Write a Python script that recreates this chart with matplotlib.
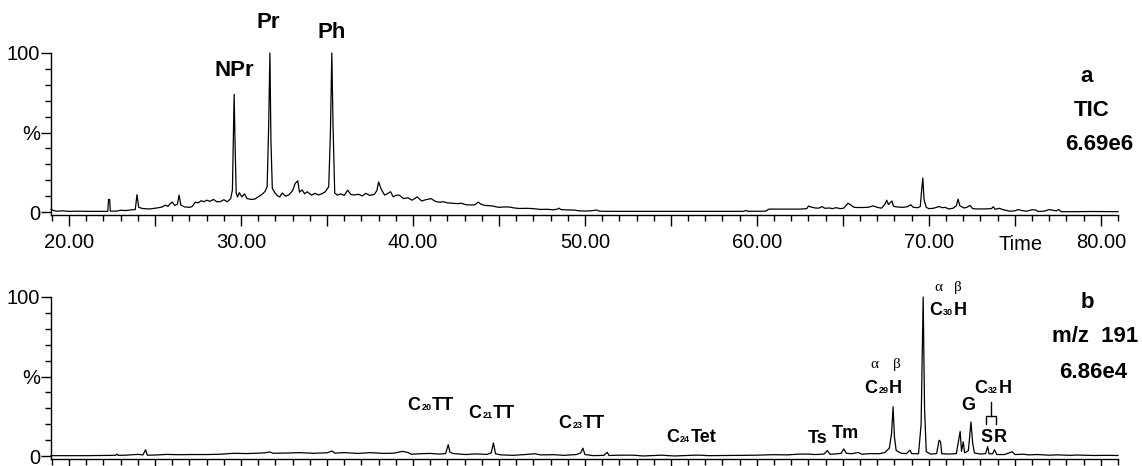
import matplotlib.pyplot as plt
from matplotlib.offsetbox import AnnotationBbox, HPacker, TextArea
from matplotlib.ticker import FuncFormatter, MultipleLocator

plt.rcParams["font.family"] = ["Liberation Sans", "DejaVu Sans"]

W, H = 1142, 466
TIME_MIN, TIME_MAX = 18.95, 81.0

# Total ion current trace: retention time (min) and relative intensity (%)
tic_time = [
    18.95, 19.1, 19.3, 19.6, 20.0, 20.5, 21.0, 21.5, 22.0, 22.25, 22.3, 22.36, 22.4,
    22.8, 23.0, 23.3, 23.6, 23.85, 23.95, 24.05, 24.3, 24.7, 25.1, 25.4, 25.6, 25.75,
    25.9, 26.0, 26.15, 26.3, 26.4, 26.5, 26.7, 27.0, 27.15, 27.35, 27.5, 27.7, 27.85,
    28.0, 28.2, 28.4, 28.6, 28.8, 29.0, 29.2, 29.4, 29.5, 29.55, 29.6, 29.65, 29.72,
    29.8, 29.9, 30.05, 30.2, 30.35, 30.6, 30.8, 31.0, 31.2, 31.4, 31.52, 31.61, 31.68,
    31.74, 31.82, 31.95, 32.1, 32.25, 32.4, 32.6, 32.8, 33.0, 33.15, 33.3, 33.4, 33.55,
    33.7, 33.85, 34.1, 34.3, 34.5, 34.7, 34.9, 35.1, 35.2, 35.28, 35.35, 35.45, 35.6,
    35.8, 36.0, 36.2, 36.4, 36.6, 36.85, 37.05, 37.25, 37.5, 37.75, 37.9, 38.0, 38.15,
    38.35, 38.5, 38.7, 38.85, 39.0, 39.2, 39.45, 39.7, 39.95, 40.25, 40.5, 40.75, 41.05,
    41.3, 41.5, 41.8, 42.0, 42.3, 42.6, 42.8, 43.1, 43.4, 43.6, 43.8, 43.95, 44.2, 44.6,
    45.0, 45.3, 45.6, 45.9, 46.2, 46.6, 47.0, 47.4, 47.8, 48.1, 48.35, 48.5, 48.6, 49.0,
    49.4, 49.65, 50.0, 50.3, 50.7, 50.85, 51.5, 53.0, 55.0, 57.0, 59.2, 59.35, 59.5,
    60.5, 60.65, 60.7, 61.5, 62.5, 62.9, 63.0, 63.15, 63.4, 63.6, 63.8, 63.95, 64.2,
    64.4, 64.6, 64.85, 65.05, 65.3, 65.45, 65.65, 65.9, 66.2, 66.5, 66.75, 66.85, 67.0,
    67.25, 67.45, 67.55, 67.65, 67.8, 67.85, 67.95, 68.2, 68.5, 68.75, 68.95, 69.1,
    69.35, 69.5, 69.6, 69.65, 69.72, 69.85, 70.0, 70.25, 70.45, 70.6, 70.75, 70.95,
    71.15, 71.4, 71.6, 71.7, 71.8, 71.95, 72.05, 72.2, 72.4, 72.55, 72.8, 73.1, 73.5,
    73.65, 73.75, 73.85, 74.1, 74.3, 74.7, 75.0, 75.2, 75.4, 75.7, 76.0, 76.2, 76.35,
    76.7, 77.0, 77.2, 77.4, 77.55, 77.7, 78.5, 79.5, 80.5, 81.0,
]
tic_int = [
    1.8, 1.0, 0.6, 0.8, 0.5, 0.6, 0.5, 0.5, 0.5, 0.5, 8.0, 8.0, 0.6,
    0.7, 1.2, 1.0, 1.4, 1.6, 11.0, 3.0, 2.2, 2.0, 2.6, 3.2, 4.4, 3.6,
    5.5, 6.3, 4.2, 5.0, 10.7, 4.5, 3.3, 3.0, 3.5, 6.3, 5.8, 7.2, 6.5,
    7.5, 6.8, 8.0, 6.5, 6.6, 7.8, 6.5, 8.5, 14.0, 45.0, 74.0, 45.0, 12.0,
    9.5, 12.2, 9.6, 11.5, 8.5, 8.0, 8.2, 9.6, 11.0, 13.0, 16.0, 55.0, 100.0,
    45.0, 15.0, 12.5, 10.5, 9.5, 12.0, 10.0, 11.0, 13.5, 18.0, 19.7, 12.5, 14.0,
    11.5, 12.8, 10.7, 11.8, 10.8, 11.5, 12.8, 16.0, 50.0, 100.0, 55.0, 12.0, 10.7,
    11.5, 10.5, 13.8, 11.0, 10.8, 11.2, 10.2, 11.8, 10.5, 11.2, 13.5, 19.0, 14.5,
    10.7, 11.5, 12.8, 9.6, 10.5, 10.7, 8.5, 9.0, 7.5, 9.6, 7.0, 7.8, 8.5,
    6.8, 6.3, 6.5, 5.8, 5.6, 5.3, 5.6, 4.6, 4.5, 4.6, 6.3, 5.0, 4.2, 3.9,
    3.0, 3.3, 3.2, 2.6, 2.3, 2.4, 2.2, 1.7, 1.8, 1.5, 1.7, 2.5, 1.6, 1.4,
    1.3, 0.8, 0.7, 0.8, 1.3, 0.6, 0.5, 0.5, 0.5, 0.5, 0.5, 1.0, 0.5,
    0.6, 1.6, 1.9, 1.9, 1.9, 2.2, 3.8, 3.2, 2.6, 2.5, 3.5, 2.4, 2.6,
    2.2, 2.8, 2.2, 2.5, 5.6, 4.6, 3.0, 2.9, 2.9, 3.1, 3.9, 3.6, 3.0,
    2.5, 5.0, 7.5, 4.8, 6.5, 7.0, 3.6, 3.2, 3.0, 3.4, 4.6, 3.0,
    2.8, 3.5, 16.0, 21.4, 8.0, 3.0, 2.2, 2.4, 3.0, 3.6, 2.8, 3.0,
    2.0, 2.4, 4.0, 8.2, 4.0, 3.2, 2.6, 3.0, 4.2, 2.2, 2.0, 2.0, 2.1,
    2.3, 3.4, 1.8, 2.4, 1.6, 0.6, 0.8, 1.6, 1.0, 0.6, 1.5, 1.4, 0.4,
    0.6, 1.6, 1.2, 0.8, 1.6, 0.3, 0.3, 0.4, 0.3, 0.3,
]

# m/z 191 fragmentogram: retention time (min) and relative intensity (%)
m191_time = [
    18.95, 20.0, 21.0, 22.0, 22.7, 22.78, 22.85, 23.3, 23.6, 24.0, 24.3, 24.45, 24.55,
    25.0, 25.7, 26.3, 27.1, 28.0, 28.8, 29.6, 30.3, 31.3, 31.7, 31.85, 32.5, 33.4,
    34.2, 35.0, 35.3, 35.45, 36.0, 36.8, 37.5, 38.3, 38.9, 39.4, 39.7, 39.9, 40.4,
    41.0, 41.5, 41.9, 42.05, 42.15, 42.35, 43.1, 43.6, 44.3, 44.55, 44.68, 44.8, 45.1,
    45.8, 46.4, 47.1, 47.4, 48.2, 48.8, 49.5, 49.75, 49.88, 50.0, 50.5, 51.1, 51.3,
    51.4, 52.0, 52.8, 53.4, 54.45, 55.2, 56.4, 56.7, 57.2, 58.5, 59.2, 60.0, 60.9,
    61.8, 62.5, 63.0, 63.4, 63.9, 64.1, 64.25, 64.6, 64.9, 65.05, 65.2, 65.5, 65.9,
    66.1, 66.6, 67.1, 67.45, 67.7, 67.83, 67.92, 68.0, 68.1, 68.4, 68.7, 68.9, 69.0,
    69.4, 69.55, 69.67, 69.75, 69.85, 70.1, 70.45, 70.6, 70.68, 70.75, 71.2, 71.6,
    71.82, 71.9, 72.0, 72.08, 72.3, 72.45, 72.55, 72.65, 73.0, 73.3, 73.42, 73.5,
    73.7, 73.82, 73.95, 74.4, 74.85, 75.0, 75.5, 75.8, 76.3, 77.0, 77.5, 78.2, 78.6,
    79.6, 80.3, 81.0,
]
m191_int = [
    0.3, 0.3, 0.3, 0.4, 0.5, 1.3, 0.5, 0.6, 0.8, 1.1, 0.8, 4.0, 0.6,
    0.7, 1.1, 0.9, 1.0, 1.0, 1.2, 1.8, 1.6, 2.0, 2.6, 1.8, 1.9, 2.2,
    1.8, 2.1, 3.2, 1.9, 2.2, 1.7, 2.2, 1.7, 1.9, 3.0, 2.3, 1.2, 1.5,
    1.7, 1.3, 1.6, 7.2, 2.5, 1.6, 1.0, 1.4, 1.1, 2.0, 8.3, 1.5, 0.8,
    0.5, 0.9, 1.5, 0.8, 0.9, 0.5, 1.0, 2.0, 5.0, 1.0, 0.3, 0.5, 2.4,
    0.4, 0.6, 0.6, 0.1, 0.6, 0.1, 0.6, 0.6, 0.3, 0.4, 0.5, 0.6, 0.9,
    0.8, 1.3, 1.3, 1.0, 1.3, 3.5, 1.2, 1.4, 1.8, 4.5, 1.8, 1.5, 2.3,
    1.2, 1.6, 1.5, 2.3, 5.0, 14.0, 31.0, 12.0, 3.5, 1.8, 1.6, 3.8, 1.6,
    1.5, 20.0, 100.0, 30.0, 2.8, 1.3, 1.6, 10.0, 9.0, 1.5, 1.3, 1.6,
    15.5, 3.0, 9.0, 2.0, 3.5, 21.5, 8.0, 2.0, 1.3, 1.6, 6.0, 1.5,
    1.4, 4.0, 1.0, 1.0, 2.8, 1.0, 1.2, 0.8, 1.0, 0.6, 0.8, 0.5, 0.7,
    0.4, 0.5, 0.4,
]


def fig_xy(px, py):
    return px / W, 1 - py / H


def time_label(value, pos):
    if abs(value / 10 - round(value / 10)) < 1e-6:
        return f"{value:.2f}"
    return ""


def percent_label(value, pos):
    return {0: "0", 50: "%", 100: "100"}.get(int(round(value)), "")


def style_axis(ax, show_time_labels):
    for side in ("top", "right"):
        ax.spines[side].set_visible(False)
    for side in ("left", "bottom"):
        ax.spines[side].set_linewidth(1.0)
    ax.set_xlim(TIME_MIN, TIME_MAX)
    ax.set_ylim(-1.8, 100)
    ax.xaxis.set_major_locator(MultipleLocator(5))
    ax.xaxis.set_minor_locator(MultipleLocator(1))
    ax.yaxis.set_major_locator(MultipleLocator(50))
    ax.yaxis.set_minor_locator(MultipleLocator(10))
    ax.yaxis.set_major_formatter(FuncFormatter(percent_label))
    if show_time_labels:
        ax.xaxis.set_major_formatter(FuncFormatter(time_label))
    else:
        ax.xaxis.set_major_formatter(FuncFormatter(lambda v, p: ""))
    ax.tick_params(which="major", direction="out", length=8, width=1.0, labelsize=14.5)
    ax.tick_params(which="minor", direction="out", length=4, width=1.0)
    ax.tick_params(axis="x", which="major", pad=5)
    ax.tick_params(axis="y", which="major", pad=1, length=7)


def sub_label(ax, x, y, parts, size=13):
    boxes = []
    for txt, is_sub in parts:
        props = dict(fontsize=size * (0.5 if is_sub else 1.0), fontweight="bold", color="black")
        boxes.append(TextArea(txt, textprops=props))
    pack = HPacker(children=boxes, align="baseline", pad=0, sep=0.5)
    ab = AnnotationBbox(pack, (x, y), xycoords="data", frameon=False,
                        box_alignment=(0.5, 0.5), pad=0, annotation_clip=False)
    ax.add_artist(ab)


def greek_pair(ax, x_alpha, x_beta, y):
    for x, ch in ((x_alpha, "\u03b1"), (x_beta, "\u03b2")):
        ax.text(x, y, ch, ha="center", va="center", fontsize=11,
                family=["Liberation Serif", "DejaVu Serif"], clip_on=False)


fig = plt.figure(figsize=(W / 100, H / 100), dpi=100)
ax_a = fig.add_axes([51 / W, 1 - 215 / H, 1067 / W, 162 / H])
ax_b = fig.add_axes([51 / W, 1 - 459 / H, 1067 / W, 162 / H])

# (a) total ion current
ax_a.plot(tic_time, tic_int, color="black", linewidth=0.9, clip_on=False)
style_axis(ax_a, True)
bold = dict(ha="center", va="center", fontsize=16, fontweight="bold")
ax_a.text(29.6, 89, "NPr", clip_on=False, **bold)
ax_a.text(31.57, 119, "Pr", clip_on=False, **bold)
ax_a.text(35.3, 113, "Ph", clip_on=False, **bold)
fig.text(*fig_xy(1087, 77), "a", **bold)
fig.text(*fig_xy(1092, 111), "TIC", **bold)
fig.text(*fig_xy(1099, 144), "6.69e6", **bold)
fig.text(*fig_xy(1021, 244), "Time", ha="center", va="center", fontsize=14.5)

# (b) m/z 191 hopanes and tricyclic terpanes
ax_b.plot(m191_time, m191_int, color="black", linewidth=0.9, clip_on=False)
style_axis(ax_b, False)
sub_label(ax_b, 41.05, 31.8, [("C", False), ("20", True), ("TT", False)])
sub_label(ax_b, 44.6, 27.1, [("C", False), ("21", True), ("TT", False)])
sub_label(ax_b, 49.83, 20.8, [("C", False), ("23", True), ("TT", False)])
sub_label(ax_b, 56.2, 11.4, [("C", False), ("24", True), ("Tet", False)])
sub_label(ax_b, 67.35, 42.5, [("C", False), ("29", True), ("H", False)])
sub_label(ax_b, 71.1, 91.5, [("C", False), ("30", True), ("H", False)])
sub_label(ax_b, 73.75, 42.5, [("C", False), ("32", True), ("H", False)])
small_bold = dict(ha="center", va="center", fontsize=13, fontweight="bold", clip_on=False)
ax_b.text(63.52, 11.1, "Ts", **small_bold)
ax_b.text(65.12, 14.5, "Tm", **small_bold)
ax_b.text(72.27, 32.1, "G", **small_bold)
ax_b.text(73.37, 11.7, "S", **small_bold)
ax_b.text(74.16, 11.7, "R", **small_bold)
greek_pair(ax_b, 66.86, 68.14, 57.3)
greek_pair(ax_b, 70.58, 71.69, 106)

# bracket joining the 22S/22R homohopane epimers
ax_b.plot([73.62, 73.62], [34.1, 25.3], color="black", linewidth=1.0, clip_on=False)
ax_b.plot([73.35, 73.35, 73.93, 73.93], [20.5, 25.3, 25.3, 20.5],
          color="black", linewidth=1.0, clip_on=False)

fig.text(*fig_xy(1087, 303), "b", **bold)
fig.text(*fig_xy(1095, 337), "m/z  191", **bold)
fig.text(*fig_xy(1093, 372), "6.86e4", **bold)

fig.savefig("out.png", dpi=100)
